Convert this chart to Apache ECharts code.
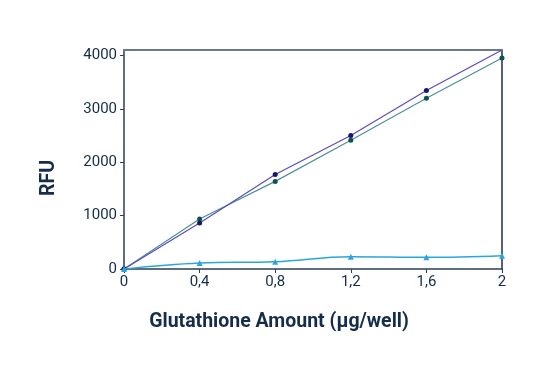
<!DOCTYPE html>
<html>
<head>
<meta charset="utf-8">
<script src="https://cdn.jsdelivr.net/npm/echarts@6/dist/echarts.min.js"></script>
<style>html,body{margin:0;padding:0;background:#fff;}#c{width:558px;height:390px;}</style>
</head>
<body>
<div id="c"></div>
<script>
const xValues = [0, 0.4, 0.8, 1.2, 1.6, 2];
const seriesA = [0, 860, 1770, 2500, 3340, 4100];
const seriesB = [0, 935, 1640, 2410, 3195, 3950];
const seriesC = [0, 112, 137, 230, 218, 249];
const yTicks = [0, 1000, 2000, 3000, 4000];
const xTitle = 'Glutathione Amount (µg/well)';
const yTitle = 'RFU';

const textColor = '#152c4a';
const chart = echarts.init(document.getElementById('c'));
const pairs = arr => xValues.map((x, i) => [x, arr[i]]);
const dataA = pairs(seriesA).map((p, i) => i === xValues.length - 1 ? { value: p, symbolSize: 0 } : p);
chart.setOption({
  animation: false,
  backgroundColor: '#fff',
  grid: [{ left: 124, right: 56, top: 50, bottom: 121, show: false }],
  graphic: [{
    type: 'text', left: 'center', top: 312,
    style: { text: xTitle, fill: textColor, font: 'bold 19.5px Roboto' }
  }, {
    type: 'text', x: 49, y: 178, rotation: Math.PI / 2,
    style: { text: yTitle, fill: textColor, font: 'bold 19.5px Roboto', align: 'center', verticalAlign: 'middle' }
  }],
  xAxis: [{
    type: 'value', min: 0, max: 2, interval: 0.4,
    axisLine: { show: true, lineStyle: { color: '#2c3e55', width: 1.5 } },
    axisTick: { show: true, length: 4, lineStyle: { color: '#2c3e55' } },
    axisLabel: { color: textColor, fontFamily: 'Roboto', fontSize: 15, margin: 6,
      formatter: v => String(Math.round(v * 10) / 10).replace('.', ',') },
    splitLine: { show: false }
  }, {
    type: 'value', min: 0, max: 2, position: 'top',
    axisLine: { show: true, onZero: false, lineStyle: { color: '#6c7a86', width: 2 } },
    axisTick: { show: false }, axisLabel: { show: false }, splitLine: { show: false }
  }],
  yAxis: [{
    type: 'value', min: 0, max: 4100, interval: 1000,
    axisLine: { show: true, lineStyle: { color: '#2c3e55', width: 1.5 } },
    axisTick: { show: true, length: 4, lineStyle: { color: '#2c3e55' } },
    axisLabel: { color: textColor, fontFamily: 'Roboto', fontSize: 15, margin: 7, showMaxLabel: false,
      formatter: v => yTicks.includes(v) ? String(v) : '' },
    splitLine: { show: false }
  }, {
    type: 'value', min: 0, max: 4100, position: 'right',
    axisLine: { show: true, onZero: false, lineStyle: { color: '#1b2f4b', width: 1.5 } },
    axisTick: { show: false }, axisLabel: { show: false }, splitLine: { show: false }
  }],
  series: [{
    type: 'line', data: pairs(seriesB), symbol: 'circle', symbolSize: 5,
    lineStyle: { color: '#4d9096', width: 1.2 }, itemStyle: { color: '#0f4f5a' }, z: 3
  }, {
    type: 'line', data: dataA, symbol: 'circle', symbolSize: 5,
    lineStyle: { color: '#5a4db8', width: 1.2 }, itemStyle: { color: '#15176a' }, z: 4
  }, {
    type: 'line', data: pairs(seriesC), symbol: 'triangle', symbolSize: 6, smooth: 0.4,
    lineStyle: { color: '#2aa6dd', width: 1.5 }, itemStyle: { color: '#2aa6dd' }, z: 5
  }]
});
</script>
</body>
</html>
